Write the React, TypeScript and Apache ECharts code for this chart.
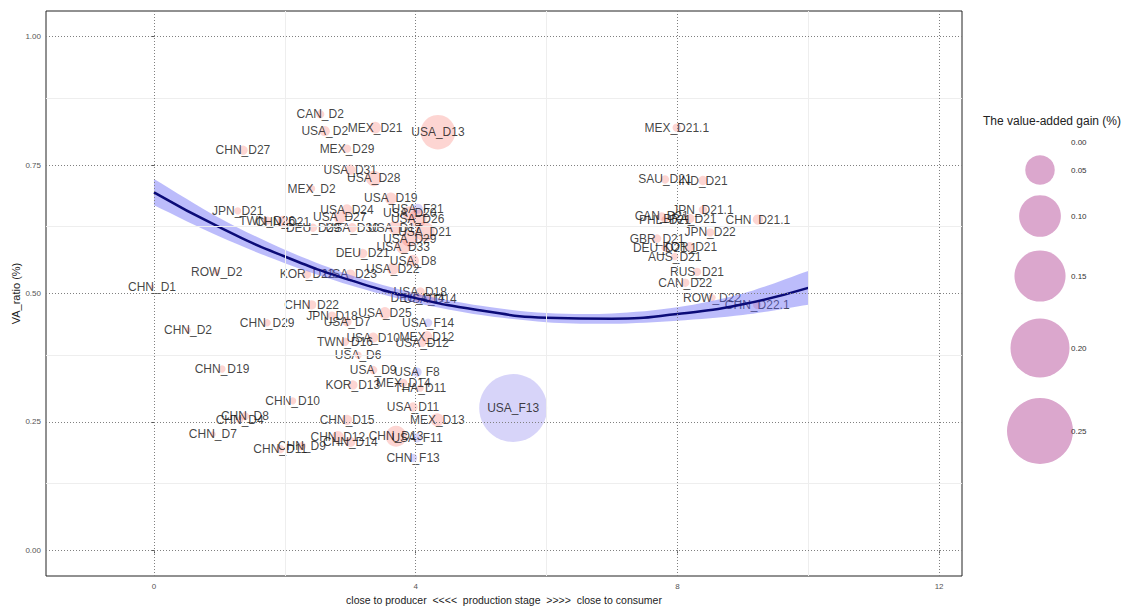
import React, { useEffect, useRef } from "react";
import * as echarts from "echarts";

// ---------- data ----------
const pointNames = [
  "CAN_D2", "USA_D2", "MEX_D21", "USA_D13", "CHN_D27", "MEX_D29", "USA_D31", "USA_D28", "MEX_D2", "USA_D19",
  "JPN_D21", "USA_D24", "USA_F21", "TWN_D26", "CHN_D21", "USA_D27", "DEU_D29", "USA_D30", "USA_D17", "USA_D20",
  "USA_D26", "USA_D21", "USA_D29", "USA_D33", "DEU_D21", "USA_D8", "USA_D22", "ROW_D2", "KOR_D22", "USA_D23",
  "CHN_D1", "USA_D18", "DEU_D14", "USA_D14", "CHN_D22", "JPN_D18", "USA_D7", "USA_D25", "USA_F14", "CHN_D29",
  "CHN_D2", "TWN_D16", "USA_D10", "MEX_D12", "USA_D12", "USA_D6", "CHN_D19", "USA_D9", "USA_F8", "KOR_D13",
  "MEX_D14", "THA_D11", "CHN_D10", "USA_D11", "CHN_D8", "CHN_D4", "CHN_D15", "MEX_D13", "CHN_D7", "CHN_D12",
  "CHN_D13", "USA_F11", "CHN_D14", "CHN_D9", "CHN_D11", "CHN_F13", "USA_F13",
  "MEX_D21.1", "SAU_D21", "IND_D21", "JPN_D21.1", "CAN_D21", "PHL_D21", "BRA_D21", "CHN_D21.1", "JPN_D22",
  "GBR_D21", "DEU_D21.1", "KOR_D21", "AUS_D21", "RUS_D21", "CAN_D22", "ROW_D22", "CHN_D22.1",
];
const productionStage = [
  2.54, 2.61, 3.38, 4.34, 1.36, 2.95, 3.0, 3.36, 2.41, 3.62,
  1.28, 2.95, 4.03, 1.73, 1.97, 2.84, 2.43, 3.03, 3.68, 3.91,
  4.03, 4.14, 3.91, 3.81, 3.19, 3.96, 3.65, 0.96, 2.34, 3.0,
  -0.03, 4.07, 4.03, 4.22, 2.41, 2.72, 2.95, 3.53, 4.19, 1.73,
  0.52, 2.92, 3.35, 4.17, 4.1, 3.12, 1.04, 3.35, 4.02, 3.04,
  3.81, 4.07, 2.12, 3.96, 1.39, 1.31, 2.95, 4.33, 0.9, 2.81,
  3.7, 4.02, 3.0, 2.26, 1.93, 3.96, 5.49,
  7.99, 7.81, 8.39, 8.39, 7.76, 7.81, 8.19, 9.23, 8.5,
  7.69, 7.81, 8.19, 7.96, 8.3, 8.12, 8.53, 9.22,
];
const vaRatio = [
  0.849, 0.816, 0.823, 0.814, 0.779, 0.782, 0.741, 0.724, 0.704, 0.685,
  0.661, 0.663, 0.665, 0.642, 0.64, 0.648, 0.628, 0.628, 0.628, 0.656,
  0.646, 0.62, 0.607, 0.591, 0.578, 0.564, 0.548, 0.542, 0.537, 0.537,
  0.513, 0.503, 0.492, 0.49, 0.478, 0.457, 0.445, 0.462, 0.443, 0.443,
  0.429, 0.406, 0.414, 0.416, 0.404, 0.38, 0.353, 0.351, 0.347, 0.322,
  0.326, 0.316, 0.291, 0.279, 0.261, 0.254, 0.254, 0.254, 0.226, 0.221,
  0.222, 0.219, 0.211, 0.203, 0.197, 0.18, 0.277,
  0.823, 0.722, 0.72, 0.663, 0.65, 0.644, 0.646, 0.644, 0.619,
  0.607, 0.589, 0.591, 0.572, 0.542, 0.521, 0.492, 0.478,
];
const vaGain = [
  0.004, 0.006, 0.008, 0.068, 0.005, 0.004, 0.006, 0.014, 0.003, 0.008,
  0.003, 0.007, 0.006, 0.004, 0.008, 0.008, 0.004, 0.005, 0.01, 0.012,
  0.018, 0.022, 0.016, 0.012, 0.005, 0.008, 0.008, 0.002, 0.004, 0.006,
  0.001, 0.005, 0.004, 0.006, 0.005, 0.004, 0.005, 0.008, 0.004, 0.003,
  0.002, 0.004, 0.006, 0.007, 0.004, 0.003, 0.003, 0.004, 0.005, 0.005,
  0.004, 0.003, 0.003, 0.005, 0.004, 0.003, 0.006, 0.01, 0.002, 0.008,
  0.025, 0.005, 0.006, 0.004, 0.004, 0.004, 0.265,
  0.004, 0.004, 0.005, 0.004, 0.004, 0.003, 0.005, 0.006, 0.004,
  0.004, 0.003, 0.005, 0.003, 0.004, 0.004, 0.003, 0.004,
];

// fitted trend with confidence band
const fitX = [0, 1, 2, 3, 4, 5, 6, 7, 8, 9, 10];
const fitY = [0.697, 0.629, 0.572, 0.526, 0.491, 0.467, 0.453, 0.451, 0.46, 0.479, 0.511];
const fitLower = [0.672, 0.611, 0.559, 0.516, 0.482, 0.458, 0.444, 0.441, 0.447, 0.458, 0.478];
const fitUpper = [0.723, 0.647, 0.585, 0.536, 0.5, 0.476, 0.462, 0.461, 0.473, 0.5, 0.544];

const xTicks = [0, 4, 8, 12];
const xMinor = [2, 6, 10];
const yTicks = [0, 0.25, 0.5, 0.75, 1];
const yMinor = [0.125, 0.375, 0.625, 0.875];

const legendValues = [0, 0.05, 0.1, 0.15, 0.2, 0.25];
const legendLabels = ["0.00", "0.05", "0.10", "0.15", "0.20", "0.25"];

// ---------- styling ----------
const FONT = "'Liberation Sans', Arial, sans-serif";
const SIZE_K = 132; // diameter = SIZE_K * sqrt(gain)
const sizeOf = (g: number) => SIZE_K * Math.sqrt(Math.max(g, 0));

export default function App() {
  const ref = useRef<HTMLDivElement>(null);

  useEffect(() => {
    if (!ref.current) return;
    const chart = echarts.init(ref.current, undefined, { renderer: "svg" });

    const points = pointNames.map((n, i) => ({
      name: n,
      value: [productionStage[i], vaRatio[i], vaGain[i]],
      itemStyle: {
        color: n.includes("_F") ? "rgba(110,100,235,0.35)" : "rgba(248,118,109,0.38)",
      },
    }));

    const fitLine = fitX.map((x, i) => [x, fitY[i]]);

    // legend graphic (chart coords = page coords - 8px body margin)
    const legendCx = 1032;
    const legendYs = [134, 162, 208, 268, 340, 423];
    const legendGraphic: any[] = [
      {
        type: "text",
        x: 1044,
        y: 113,
        style: {
          text: "The value-added gain (%)",
          font: `12px ${FONT}`,
          fill: "#222",
          align: "center",
          verticalAlign: "middle",
        },
      },
    ];
    legendValues.forEach((v, i) => {
      const r = sizeOf(v) / 2;
      if (r > 0) {
        legendGraphic.push({
          type: "circle",
          shape: { cx: legendCx, cy: legendYs[i], r },
          style: { fill: "#dba7cd" },
        });
      }
      legendGraphic.push({
        type: "text",
        x: 1063,
        y: legendYs[i],
        style: {
          text: legendLabels[i],
          font: `8px ${FONT}`,
          fill: "#333",
          verticalAlign: "middle",
        },
      });
    });

    const option: any = {
      animation: false,
      backgroundColor: "#ffffff",
      textStyle: { fontFamily: FONT },
      grid: {
        left: 38,
        top: 3,
        width: 916,
        height: 565,
        show: true,
        borderColor: "#222",
        borderWidth: 1,
        backgroundColor: "#ffffff",
        outerBoundsMode: "none",
        containLabel: false,
      },
      xAxis: {
        type: "value",
        min: -1.65,
        max: 12.35,
        splitLine: { show: false },
        axisLine: { show: false },
        axisTick: { show: true, customValues: xTicks, length: 3, lineStyle: { color: "#555" } },
        axisLabel: { customValues: xTicks, fontSize: 8, color: "#555", margin: 6 },
        name: "close to producer  <<<<  production stage  >>>>  close to consumer",
        nameLocation: "middle",
        nameGap: 18,
        nameMoveOverlap: false,
        nameTextStyle: { fontSize: 10.5, color: "#222" },
      },
      yAxis: {
        type: "value",
        min: -0.05,
        max: 1.05,
        splitLine: { show: false },
        axisLine: { show: false },
        axisTick: { show: true, customValues: yTicks, length: 3, lineStyle: { color: "#555" } },
        axisLabel: {
          customValues: yTicks,
          fontSize: 8,
          color: "#555",
          margin: 5,
          formatter: (v: number) => v.toFixed(2),
        },
        name: "VA_ratio (%)",
        nameLocation: "middle",
        nameGap: 25,
        nameMoveOverlap: false,
        nameTextStyle: { fontSize: 11, color: "#222" },
      },
      graphic: legendGraphic,
      series: [
        {
          type: "line",
          name: "grid",
          data: [],
          silent: true,
          z: 0,
          markLine: {
            silent: true,
            symbol: "none",
            label: { show: false },
            animation: false,
            data: [
              ...xMinor.map((v) => ({ xAxis: v, lineStyle: { color: "#eeeeee", type: "solid", width: 1 } })),
              ...yMinor.map((v) => ({ yAxis: v, lineStyle: { color: "#eeeeee", type: "solid", width: 1 } })),
              ...xTicks.map((v) => ({ xAxis: v, lineStyle: { color: "#808080", type: [1, 2], width: 1 } })),
              ...yTicks.map((v) => ({ yAxis: v, lineStyle: { color: "#808080", type: [1, 2], width: 1 } })),
            ],
          },
        },
        {
          type: "scatter",
          name: "points",
          data: points,
          z: 2,
          symbolSize: (val: number[]) => Math.max(sizeOf(val[2]), 2),
          label: {
            show: true,
            position: "inside",
            formatter: (p: any) => p.name,
            fontSize: 12,
            fontFamily: FONT,
            color: "#111",
          },
          labelLayout: { hideOverlap: false },
        },
        {
          type: "custom",
          name: "band",
          data: [[fitX[0], fitY[0]]],
          silent: true,
          z: 3,
          renderItem: (_params: any, api: any) => {
            const upper = fitX.map((x, i) => api.coord([x, fitUpper[i]]));
            const lower = fitX.map((x, i) => api.coord([x, fitLower[i]])).reverse();
            // duplicate the four corner vertices so the end edges stay straight
            const n = upper.length;
            const pts = [
              upper[0], upper[0], ...upper.slice(1, n - 1), upper[n - 1], upper[n - 1],
              lower[0], lower[0], ...lower.slice(1, n - 1), lower[n - 1], lower[n - 1],
            ];
            return {
              type: "polygon",
              shape: { points: pts, smooth: 0.3 },
              style: { fill: "rgba(95,95,245,0.42)" },
            };
          },
        },
        {
          type: "line",
          name: "fit",
          data: fitLine,
          smooth: true,
          symbol: "none",
          lineStyle: { color: "#0b0b78", width: 2.5 },
          silent: true,
          z: 4,
        },
      ],
    };

    chart.setOption(option);
    return () => chart.dispose();
  }, []);

  return <div ref={ref} style={{ width: 1124, height: 600 }} />;
}
